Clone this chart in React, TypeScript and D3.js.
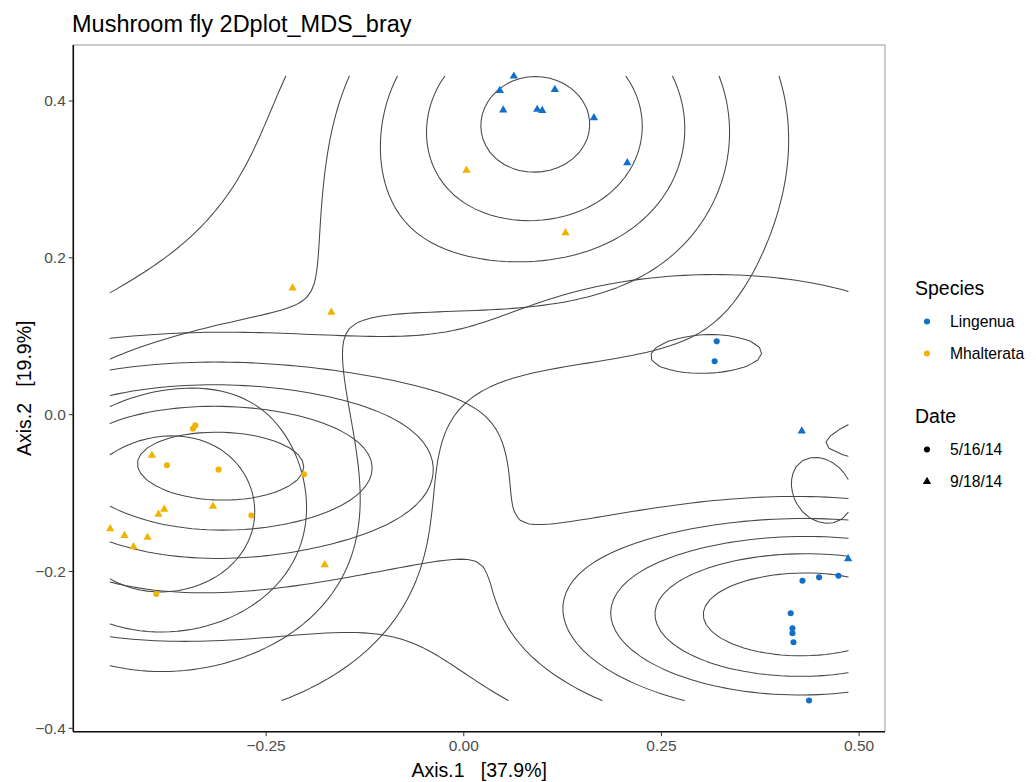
import React from "react";
import * as d3 from "d3";

// ---------- data ----------
const speciesLevels = ["Lingenua", "Mhalterata"];
const dateLevels = ["5/16/14", "9/18/14"];
const speciesColors = ["#1170C8", "#F0B400"];

const axis1 = [
  // Lingenua 5/16/14
  0.3199, 0.3173, 0.4284, 0.4494, 0.4739, 0.4135, 0.4157, 0.4157, 0.417, 0.4367,
  // Lingenua 9/18/14
  0.0633, 0.0456, 0.1152, 0.0499, 0.0929, 0.0992, 0.1646, 0.2068, 0.4275, 0.4861,
  // Mhalterata 5/16/14
  -0.3396, -0.3425, -0.3754, -0.3101, -0.202, -0.2687, -0.389,
  // Mhalterata 9/18/14
  -0.3944, -0.3789, -0.3861, -0.3172, -0.4472, -0.4291, -0.4, -0.4177, -0.1759, 0.0034, 0.1287, -0.2165, -0.1675,
];
const axis2 = [
  0.0935, 0.0681, -0.2118, -0.2075, -0.2055, -0.2533, -0.2724, -0.2788, -0.2902, -0.3645,
  0.4316, 0.4134, 0.4146, 0.3883, 0.3892, 0.3879, 0.3785, 0.3212, -0.021, -0.1838,
  -0.0137, -0.0179, -0.0646, -0.0701, -0.0761, -0.1286, -0.2288,
  -0.0519, -0.1206, -0.127, -0.1168, -0.1457, -0.1541, -0.1566, -0.1686, -0.1915, 0.3116, 0.2318, 0.1615, 0.1304,
];
const speciesOf = [
  ...Array(20).fill("Lingenua"),
  ...Array(20).fill("Mhalterata"),
];
const dateOf = [
  ...Array(10).fill("5/16/14"),
  ...Array(10).fill("9/18/14"),
  ...Array(7).fill("5/16/14"),
  ...Array(13).fill("9/18/14"),
];

const xTicks = [-0.25, 0, 0.25, 0.5];
const xTickLabels = ["\u22120.25", "0.00", "0.25", "0.50"];
const yTicks = [-0.4, -0.2, 0, 0.2, 0.4];
const yTickLabels = ["\u22120.4", "\u22120.2", "0.0", "0.2", "0.4"];

const titleText = "Mushroom fly 2Dplot_MDS_bray";
const xTitle = "Axis.1   [37.9%]";
const yTitle = "Axis.2   [19.9%]";

// ---------- layout ----------
const W = 1036;
const H = 782;
const panel = { left: 73.3, right: 885, top: 45, bottom: 731.7 };
const FONT = "'Liberation Sans', Arial, Helvetica, sans-serif";

// ---------- helpers ----------
function bandwidthNrd(v: number[]) {
  const s = [...v].sort((a, b) => a - b);
  const q1 = d3.quantileSorted(s, 0.25) as number;
  const q3 = d3.quantileSorted(s, 0.75) as number;
  const sd = d3.deviation(v) as number;
  const iq = (q3 - q1) / 1.34;
  return 4 * 1.06 * Math.min(sd, iq > 0 ? iq : sd) * Math.pow(v.length, -0.2);
}

function kde2d(xs: number[], ys: number[], n: number, xl: number[], yl: number[]) {
  const hx = bandwidthNrd(xs) / 4;
  const hy = bandwidthNrd(ys) / 4;
  const gx = d3.range(n).map((i) => xl[0] + (i * (xl[1] - xl[0])) / (n - 1));
  const gy = d3.range(n).map((j) => yl[0] + (j * (yl[1] - yl[0])) / (n - 1));
  const dn = (u: number) => Math.exp(-0.5 * u * u) / Math.sqrt(2 * Math.PI);
  const z: number[][] = gx.map((x) =>
    gy.map((y) => {
      let s = 0;
      for (let k = 0; k < xs.length; k++) s += dn((x - xs[k]) / hx) * dn((y - ys[k]) / hy);
      return s / (xs.length * hx * hy);
    })
  );
  return { gx, gy, z };
}

function rPretty(lo: number, hi: number, n = 10) {
  const h = 1.5;
  const h5 = 0.5 + 1.5 * h;
  const cell = (hi - lo) / n;
  const U = Math.pow(10, Math.floor(Math.log10(cell)));
  let unit = U;
  if (2 * U - cell < h * (cell - unit)) {
    unit = 2 * U;
    if (5 * U - cell < h5 * (cell - unit)) {
      unit = 5 * U;
      if (10 * U - cell < h * (cell - unit)) unit = 10 * U;
    }
  }
  const ns = Math.floor(lo / unit + 1e-7);
  const nu = Math.ceil(hi / unit - 1e-7);
  return d3.range(ns, nu + 1).map((k) => k * unit);
}

// marching squares -> polylines in grid index coordinates
function isolines(z: number[][], level: number) {
  const nx = z.length;
  const ny = z[0].length;
  const pts = new Map<string, [number, number]>();
  const adj = new Map<string, string[]>();
  const hKey = (i: number, j: number) => {
    const k = `h${i},${j}`;
    if (!pts.has(k)) {
      const t = (level - z[i][j]) / (z[i + 1][j] - z[i][j]);
      pts.set(k, [i + t, j]);
    }
    return k;
  };
  const vKey = (i: number, j: number) => {
    const k = `v${i},${j}`;
    if (!pts.has(k)) {
      const t = (level - z[i][j]) / (z[i][j + 1] - z[i][j]);
      pts.set(k, [i, j + t]);
    }
    return k;
  };
  const link = (a: string, b: string) => {
    if (!adj.has(a)) adj.set(a, []);
    if (!adj.has(b)) adj.set(b, []);
    adj.get(a)!.push(b);
    adj.get(b)!.push(a);
  };
  for (let i = 0; i < nx - 1; i++) {
    for (let j = 0; j < ny - 1; j++) {
      const a = z[i][j], b = z[i + 1][j], c = z[i + 1][j + 1], d = z[i][j + 1];
      const A = a >= level, B = b >= level, C = c >= level, D = d >= level;
      const e: (string | null)[] = [
        A !== B ? hKey(i, j) : null,
        B !== C ? vKey(i + 1, j) : null,
        D !== C ? hKey(i, j + 1) : null,
        A !== D ? vKey(i, j) : null,
      ];
      const present = e.filter((x) => x !== null) as string[];
      if (present.length === 2) link(present[0], present[1]);
      else if (present.length === 4) {
        const center = (a + b + c + d) / 4 >= level;
        if (A === center) {
          link(e[0]!, e[1]!);
          link(e[2]!, e[3]!);
        } else {
          link(e[3]!, e[0]!);
          link(e[1]!, e[2]!);
        }
      }
    }
  }
  const visited = new Set<string>();
  const lines: [number, number][][] = [];
  const walk = (start: string) => {
    const line: [number, number][] = [pts.get(start)!];
    visited.add(start);
    let cur = start;
    while (true) {
      const nexts = (adj.get(cur) || []).filter((k) => !visited.has(k));
      if (!nexts.length) {
        const back = adj.get(cur) || [];
        if (back.includes(start) && line.length > 2) line.push(pts.get(start)!);
        break;
      }
      cur = nexts[0];
      visited.add(cur);
      line.push(pts.get(cur)!);
    }
    lines.push(line);
  };
  for (const [k, v] of adj) if (v.length === 1 && !visited.has(k)) walk(k);
  for (const k of adj.keys()) if (!visited.has(k)) walk(k);
  return lines;
}

export default function App() {
  const xExt = d3.extent(axis1) as [number, number];
  const yExt = d3.extent(axis2) as [number, number];
  const dx = xExt[1] - xExt[0];
  const dy = yExt[1] - yExt[0];
  const x = d3.scaleLinear().domain([xExt[0] - 0.05 * dx, xExt[1] + 0.05 * dx]).range([panel.left, panel.right]);
  const y = d3.scaleLinear().domain([yExt[0] - 0.05 * dy, yExt[1] + 0.05 * dy]).range([panel.bottom, panel.top]);

  // density per Date group (as in stat_density_2d), common breaks
  const N = 100;
  const groups = dateLevels.map((dt) => {
    const idx = d3.range(axis1.length).filter((i) => dateOf[i] === dt);
    return kde2d(idx.map((i) => axis1[i]), idx.map((i) => axis2[i]), N, xExt, yExt);
  });
  let zmin = Infinity, zmax = -Infinity;
  groups.forEach((g) => g.z.forEach((r) => r.forEach((v) => { if (v < zmin) zmin = v; if (v > zmax) zmax = v; })));
  const breaks = rPretty(zmin, zmax, 10);

  const line = d3.line<[number, number]>().x((p) => p[0]).y((p) => p[1]);
  const contourPaths: string[] = [];
  groups.forEach((g) => {
    const gi = d3.scaleLinear().domain([0, N - 1]).range(xExt);
    const gj = d3.scaleLinear().domain([0, N - 1]).range(yExt);
    breaks.forEach((lv) => {
      if (lv <= zmin || lv >= zmax) return;
      isolines(g.z, lv).forEach((pl) => {
        const d = line(pl.map(([i, j]) => [x(gi(i)), y(gj(j))] as [number, number]));
        if (d) contourPaths.push(d);
      });
    });
  });

  const sym = (shape: string) =>
    d3.symbol().type(shape === "9/18/14" ? d3.symbolTriangle : d3.symbolCircle).size(shape === "9/18/14" ? 30 : 29)()!;

  const tickColor = "#333333";
  const labColor = "#4D4D4D";

  return (
    <svg width={W} height={H} style={{ position: "absolute", left: 0, top: 0, background: "#fff" }} fontFamily={FONT}>
      <rect x={0} y={0} width={W} height={H} fill="#fff" />
      {/* title */}
      <text x={72} y={32} fontSize={23.5} fill="#000">{titleText}</text>

      {/* panel */}
      <rect x={panel.left} y={panel.top} width={panel.right - panel.left} height={panel.bottom - panel.top} fill="#fff" stroke="#9a9a9a" strokeWidth={1} />

      {/* contours */}
      <g fill="none" stroke="#474747" strokeWidth={1.05} strokeLinejoin="round" strokeLinecap="round">
        {contourPaths.map((d, i) => (
          <path key={i} d={d} />
        ))}
      </g>

      {/* points */}
      <g>
        {axis1.map((v, i) => (
          <path
            key={i}
            d={sym(dateOf[i])}
            transform={`translate(${x(v)},${y(axis2[i])})`}
            fill={speciesColors[speciesLevels.indexOf(speciesOf[i])]}
          />
        ))}
      </g>

      {/* axis lines */}
      <line x1={panel.left} x2={panel.left} y1={panel.top} y2={panel.bottom} stroke="#111" strokeWidth={1.6} />
      <line x1={panel.left} x2={panel.right} y1={panel.bottom} y2={panel.bottom} stroke="#111" strokeWidth={1.6} />

      {/* y ticks */}
      {yTicks.map((t, i) => (
        <g key={i}>
          <line x1={panel.left - 4.5} x2={panel.left} y1={y(t)} y2={y(t)} stroke={tickColor} strokeWidth={1} />
          <text x={panel.left - 7.5} y={y(t)} dy="0.35em" textAnchor="end" fontSize={15.5} fill={labColor}>
            {yTickLabels[i]}
          </text>
        </g>
      ))}
      {/* x ticks */}
      {xTicks.map((t, i) => (
        <g key={i}>
          <line x1={x(t)} x2={x(t)} y1={panel.bottom} y2={panel.bottom + 4.5} stroke={tickColor} strokeWidth={1} />
          <text x={x(t)} y={751} textAnchor="middle" fontSize={15.5} fill={labColor}>
            {xTickLabels[i]}
          </text>
        </g>
      ))}

      {/* axis titles */}
      <text x={(panel.left + panel.right) / 2} y={777} textAnchor="middle" fontSize={19.5} fill="#000" style={{ whiteSpace: "pre" }}>
        {xTitle}
      </text>
      <text
        transform={`translate(31,${(panel.top + panel.bottom) / 2}) rotate(-90)`}
        textAnchor="middle"
        fontSize={19.5}
        fill="#000"
        style={{ whiteSpace: "pre" }}
      >
        {yTitle}
      </text>

      {/* legend */}
      <g>
        <text x={915} y={295} fontSize={19.5} fill="#000">Species</text>
        {speciesLevels.map((s, i) => (
          <g key={s} transform={`translate(0,${321.5 + i * 32})`}>
            <path d={d3.symbol().type(d3.symbolCircle).size(29)()!} transform="translate(927,0)" fill={speciesColors[i]} />
            <text x={950} y={0} dy="0.35em" fontSize={15.7} fill="#000">{s}</text>
          </g>
        ))}
        <text x={915} y={423} fontSize={19.5} fill="#000">Date</text>
        {dateLevels.map((dt, i) => (
          <g key={dt} transform={`translate(0,${449.5 + i * 32})`}>
            <path d={sym(dt)} transform="translate(927,0)" fill="#000" />
            <text x={950} y={0} dy="0.35em" fontSize={15.7} fill="#000">{dt}</text>
          </g>
        ))}
      </g>
    </svg>
  );
}
